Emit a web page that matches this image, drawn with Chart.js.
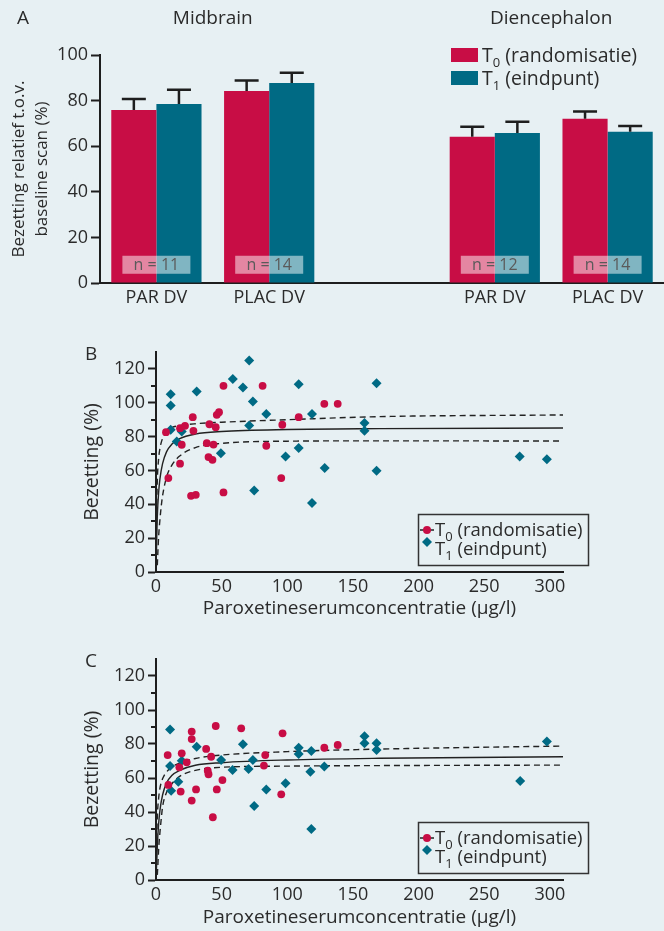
<!DOCTYPE html>
<html><head><meta charset="utf-8">
<script src="https://cdn.jsdelivr.net/npm/chart.js@4.4.1/dist/chart.umd.min.js"></script>
<style>
html,body{margin:0;padding:0;background:#e7f0f3;width:664px;height:931px;overflow:hidden}
canvas{position:absolute;left:0}
</style></head><body>
<canvas id="cA" width="664" height="310" style="top:0px"></canvas>
<canvas id="cB" width="664" height="290" style="top:330px"></canvas>
<canvas id="cC" width="664" height="291" style="top:640px"></canvas>
<script>
// ---------- Panel A data ----------
const barCategories = ['PAR DV', 'PLAC DV', '', 'PAR DV', 'PLAC DV'];
const regionTitles = ['Midbrain', 'Diencephalon'];
const t0Means = [75.9, 84.2, null, 64.1, 72.0];
const t0Err   = [4.8, 4.6, null, 4.4, 3.2];
const t1Means = [78.5, 87.7, null, 65.8, 66.3];
const t1Err   = [6.3, 4.5, null, 4.9, 2.6];
const nLabels = ['n = 11', 'n = 14', '', 'n = 12', 'n = 14'];
const legendMain = ['T', 'T'];
const legendSub = ['0', '1'];
const legendRest = ['(randomisatie)', '(eindpunt)'];

// ---------- Panel B data (Midbrain scatter) ----------
const bT0x = [7.6, 9.4, 18.3, 22.1, 18.3, 19.6, 28, 28.5, 26.7, 30.3, 38.7, 40.7, 40, 43, 43.8, 45.5, 46.3, 48, 51.4, 51.4, 81.2, 84, 96.2, 95.4, 108.7, 128.2, 138.4];
const bT0y = [82.6, 55.5, 85, 86.4, 64, 75.2, 91.5, 83.4, 45, 45.6, 76.1, 87.3, 67.9, 66.3, 75.3, 85.6, 92.9, 94.4, 110, 47, 110, 74.6, 87, 55.5, 91.5, 99.4, 99.4];
const bT1x = [11.2, 11.2, 11.2, 15.8, 19.6, 31, 49.4, 58.5, 66.2, 71, 71, 73.8, 74.8, 84, 98.7, 108.7, 108.7, 118.8, 118.8, 128.5, 158.8, 158.8, 168, 168, 277, 297.7];
const bT1y = [105, 98.4, 84, 77.1, 83, 106.6, 70.2, 114.1, 109, 125, 86.6, 100.7, 48.2, 93.3, 68.3, 111, 73.2, 93.3, 40.7, 61.4, 88, 83.4, 111.5, 59.8, 68.2, 66.6];

// ---------- Panel C data (Diencephalon scatter) ----------
const cT0x = [8.9, 9.4, 17.8, 19.6, 18.8, 23.4, 27.2, 27.2, 27.2, 30.5, 38.2, 39.4, 40, 42, 43.3, 45.5, 46.3, 50.6, 64.9, 83.2, 82.2, 95.4, 96.4, 128.2, 138.4];
const cT0y = [73.5, 55.9, 66.3, 74.5, 52, 69.2, 87.3, 82.9, 46.7, 53.3, 77.1, 64.3, 62.2, 72.5, 36.9, 90.6, 53.3, 58.8, 89.2, 73.5, 67.3, 50.4, 86.3, 77.8, 79.4];
const cT1x = [10.7, 10.7, 11.5, 17, 19.6, 31, 49.6, 58.3, 66.2, 70.5, 73.8, 74.8, 84, 98.7, 108.7, 108.7, 118.3, 117.6, 118.3, 128.2, 158.8, 158.8, 168, 168, 277.4, 297.7];
const cT1y = [88.6, 67.1, 52.5, 57.8, 70.2, 78.4, 70.6, 64.7, 79.8, 65.3, 70.6, 43.5, 53.3, 56.9, 77.8, 74.1, 75.9, 63.7, 30, 66.7, 84.5, 80.4, 80.4, 76.5, 58.2, 81.4];

// ---------- fitted curves ----------
const curveX      = [0.3, 0.6, 1, 2, 3, 5, 8, 12, 18, 30, 50, 100, 170, 310];
const curveXLower = [1, 1.5, 2, 3, 4, 5, 8, 12, 18, 30, 50, 100, 170, 310];
const bFit   = [10, 22, 33, 47, 55, 64, 71, 75.5, 78.8, 81.5, 83, 84.2, 84.7, 85.1];
const bUpper = [22, 40, 54, 67, 73, 79, 83.3, 85.3, 86.5, 87.6, 88.5, 90, 91.8, 92.8];
const bLower = [4, 13, 21, 31, 39, 45, 56, 63, 68.5, 73.5, 76, 77.3, 77.5, 77.4];
const cFit   = [6, 12, 20, 33, 41, 50, 57, 61.5, 64.5, 67.5, 69, 70.6, 71.6, 72.5];
const cUpper = [12, 25, 37, 48, 54, 59.5, 63.5, 66.5, 68.8, 71.5, 73.5, 75.5, 77, 78.8];
const cLower = [3, 10, 18, 28, 36, 43, 51.5, 56.5, 61, 64.5, 66.3, 67, 67.3, 67.6];

const scatterXTitle = 'Paroxetineserumconcentratie (µg/l)';
const scatterYTitle = 'Bezetting (%)';
const barYTitle = ['Bezetting relatief t.o.v.', 'baseline scan (%)'];

// ---------- styles ----------
const FONT = '"Open Sans", Lato, sans-serif';
const TXT = '#2b2b2b';
const RED = '#c80d45';
const TEAL = '#006a84';
const AXIS = '#1e1e1e';

function drawSubText(ctx, x, y, main, sub, rest, size) {
  ctx.textAlign = 'left'; ctx.textBaseline = 'alphabetic'; ctx.fillStyle = TXT;
  ctx.font = size + 'px ' + FONT;
  ctx.fillText(main, x, y); x += ctx.measureText(main).width;
  const ss = Math.round(size * 0.68);
  ctx.font = ss + 'px ' + FONT;
  ctx.fillText(sub, x, y + size * 0.25); x += ctx.measureText(sub).width;
  ctx.font = size + 'px ' + FONT;
  ctx.fillText(' ' + rest, x, y);
}

// ---------- Panel A ----------
const panelAPlugin = {
  id: 'panelA',
  afterDatasetsDraw(chart) {
    const ctx = chart.ctx, xs = chart.scales.x, ys = chart.scales.y;
    const errs = [t0Err, t1Err], means = [t0Means, t1Means];
    ctx.save();
    ctx.strokeStyle = AXIS; ctx.lineWidth = 2.5;
    [0, 1].forEach(i => {
      chart.getDatasetMeta(i).data.forEach((bar, j) => {
        if (means[i][j] == null) return;
        const yTop = ys.getPixelForValue(means[i][j] + errs[i][j]);
        ctx.beginPath();
        ctx.moveTo(bar.x, bar.y); ctx.lineTo(bar.x, yTop);
        ctx.moveTo(bar.x - 12, yTop); ctx.lineTo(bar.x + 12, yTop);
        ctx.stroke();
      });
    });
    nLabels.forEach((lab, j) => {
      if (!lab) return;
      const cx = xs.getPixelForValue(j);
      const cy = ys.getPixelForValue(8);
      ctx.fillStyle = 'rgba(255,255,255,0.5)';
      ctx.fillRect(cx - 34, cy - 9, 68, 18);
      ctx.fillStyle = '#5a5a5a';
      ctx.font = '16px ' + FONT; ctx.textAlign = 'center'; ctx.textBaseline = 'middle';
      ctx.fillText(lab, cx, cy + 1);
    });
    ctx.restore();
  },
  afterDraw(chart) {
    const ctx = chart.ctx, xs = chart.scales.x;
    ctx.save();
    ctx.fillStyle = TXT; ctx.font = '19px ' + FONT; ctx.textBaseline = 'middle';
    ctx.textAlign = 'left'; ctx.fillText('A', 17, 19);
    ctx.textAlign = 'center';
    ctx.fillText(regionTitles[0], (xs.getPixelForValue(0) + xs.getPixelForValue(1)) / 2, 19);
    ctx.fillText(regionTitles[1], (xs.getPixelForValue(3) + xs.getPixelForValue(4)) / 2, 19);
    const cols = [RED, TEAL];
    [0, 1].forEach(i => {
      const top = 48 + i * 23;
      ctx.fillStyle = cols[i];
      ctx.fillRect(451, top, 27, 14);
      drawSubText(ctx, 482, top + 14, legendMain[i], legendSub[i], legendRest[i], 19.5);
    });
    ctx.restore();
  }
};

new Chart(document.getElementById('cA'), {
  type: 'bar',
  data: {
    labels: barCategories,
    datasets: [
      { label: 'T0', data: t0Means, backgroundColor: RED, categoryPercentage: 0.8, barPercentage: 1.0 },
      { label: 'T1', data: t1Means, backgroundColor: TEAL, categoryPercentage: 0.8, barPercentage: 1.0 }
    ]
  },
  options: {
    responsive: false, animation: false, devicePixelRatio: 1,
    layout: { padding: { top: 55, right: 0, left: 0, bottom: 0 } },
    plugins: { legend: { display: false }, tooltip: { enabled: false } },
    scales: {
      x: {
        grid: { display: false, drawTicks: false },
        border: { color: AXIS, width: 2 },
        ticks: { color: TXT, font: { family: FONT, size: 18 }, padding: 4 },
        afterFit(s) { s.height = 27; }
      },
      y: {
        min: 0, max: 100,
        ticks: { stepSize: 20, color: TXT, font: { family: FONT, size: 18 }, padding: 3 },
        grid: { drawOnChartArea: false, tickLength: 9, tickColor: AXIS, tickWidth: 2 },
        border: { color: AXIS, width: 2 },
        title: { display: true, text: barYTitle, color: TXT, font: { family: FONT, size: 17, lineHeight: 1.35 }, padding: { top: 7.5, bottom: 0 } },
        afterFit(s) { s.width = 100; }
      }
    }
  },
  plugins: [panelAPlugin]
});

// ---------- Panels B and C ----------
function toXY(xs, ys) { return xs.map((x, i) => ({ x: x, y: ys[i] })); }

function makeScatterPlugin(letter) {
  return {
    id: 'scatterDeco' + letter,
    afterDraw(chart) {
      const ctx = chart.ctx, ys = chart.scales.y, area = chart.chartArea;
      ctx.save();
      ctx.strokeStyle = AXIS; ctx.lineWidth = 2;
      for (let v = 10; v <= 110; v += 20) {
        const py = Math.round(ys.getPixelForValue(v));
        ctx.beginPath(); ctx.moveTo(area.left - 5, py); ctx.lineTo(area.left, py); ctx.stroke();
      }
      ctx.fillStyle = TXT; ctx.font = '19px ' + FONT; ctx.textAlign = 'left'; ctx.textBaseline = 'middle';
      ctx.fillText(letter, 85, area.top + 3);
      const bottom = area.bottom - 7, top = bottom - 51, left = 418, right = 588;
      ctx.lineWidth = 1.5; ctx.strokeStyle = '#333';
      ctx.strokeRect(left + 0.5, top + 0.5, right - left, bottom - top);
      ctx.strokeStyle = '#222'; ctx.lineWidth = 1.5;
      ctx.beginPath(); ctx.moveTo(420, top + 16); ctx.lineTo(434, top + 16); ctx.stroke();
      ctx.fillStyle = RED; ctx.beginPath(); ctx.arc(427, top + 16, 4, 0, Math.PI * 2); ctx.fill();
      ctx.fillStyle = TEAL; ctx.beginPath();
      ctx.moveTo(427, top + 23); ctx.lineTo(432, top + 28); ctx.lineTo(427, top + 33); ctx.lineTo(422, top + 28); ctx.closePath(); ctx.fill();
      drawSubText(ctx, 435, top + 22, legendMain[0], legendSub[0], legendRest[0], 18.5);
      drawSubText(ctx, 435, top + 41, legendMain[1], legendSub[1], legendRest[1], 18.5);
      ctx.restore();
    }
  };
}

function scatterChart(id, letter, t0x, t0y, t1x, t1y, fit, upper, lower, padTop, xAxisH, xTitlePad) {
  const lineBase = { type: 'line', showLine: true, pointRadius: 0, borderColor: '#222', borderWidth: 1.4, fill: false, cubicInterpolationMode: 'monotone' };
  return new Chart(document.getElementById(id), {
    type: 'scatter',
    data: {
      datasets: [
        { label: 'T0', data: toXY(t0x, t0y), pointStyle: 'circle', pointRadius: 3.9, backgroundColor: RED, borderWidth: 0 },
        { label: 'T1', data: toXY(t1x, t1y), pointStyle: 'rectRot', pointRadius: 5, backgroundColor: TEAL, borderWidth: 0 },
        Object.assign({ label: 'fit', data: toXY(curveX, fit) }, lineBase),
        Object.assign({ label: 'upper', data: toXY(curveX, upper), borderDash: [6, 4] }, lineBase),
        Object.assign({ label: 'lower', data: toXY(curveXLower, lower), borderDash: [6, 4] }, lineBase)
      ]
    },
    options: {
      responsive: false, animation: false, devicePixelRatio: 1,
      layout: { padding: { top: padTop, right: 101, left: 0, bottom: 0 } },
      plugins: { legend: { display: false }, tooltip: { enabled: false } },
      scales: {
        x: {
          type: 'linear', min: 0, max: 310,
          grid: { display: false, drawTicks: false },
          border: { color: AXIS, width: 2 },
          ticks: { stepSize: 50, includeBounds: false, color: TXT, font: { family: FONT, size: 18 }, padding: 4 },
          title: { display: true, text: scatterXTitle, color: TXT, font: { family: FONT, size: 19 }, padding: { top: 0, bottom: xTitlePad } },
          afterFit(s) { s.height = xAxisH; }
        },
        y: {
          min: 0, max: 130,
          ticks: { stepSize: 20, includeBounds: false, color: TXT, font: { family: FONT, size: 18 }, padding: 3 },
          grid: { drawOnChartArea: false, tickLength: 8, tickColor: AXIS, tickWidth: 2 },
          border: { color: AXIS, width: 2 },
          title: { display: true, text: scatterYTitle, color: TXT, font: { family: FONT, size: 19.5 }, padding: { top: 80.5, bottom: 0 } },
          afterFit(s) { s.width = 156; }
        }
      }
    },
    plugins: [makeScatterPlugin(letter)]
  });
}

scatterChart('cB', 'B', bT0x, bT0y, bT1x, bT1y, bFit, bUpper, bLower, 22, 48, 0.5);
scatterChart('cC', 'C', cT0x, cT0y, cT1x, cT1y, cFit, cUpper, cLower, 19, 51, 2.5);
</script>
</body></html>
